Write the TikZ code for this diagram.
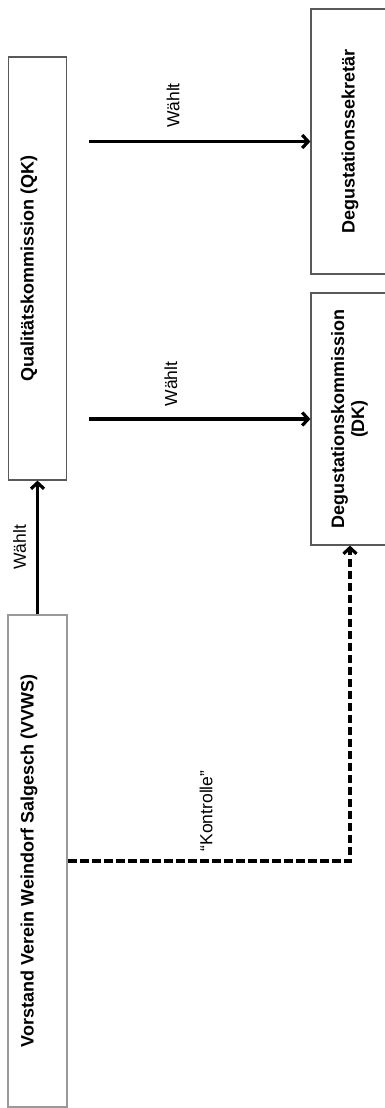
\documentclass[tikz,border=0pt]{standalone}
\usepackage{fontspec}
\setmainfont{Liberation Sans}
\usepackage{graphicx}
\usetikzlibrary{arrows.meta}
\usetikzlibrary{calc}
\tikzstyle{orgbox}=[draw=black!65,line width=1.2pt,inner sep=0,font=\bfseries\fontsize{18}{20}\selectfont]
\tikzstyle{lefttext}=[execute at end node=\hspace*{17pt}]
\newcommand{\hochkant}[1]{\rotatebox{90}{#1}}

\begin{document}
\begin{tikzpicture}[
  x=1pt,y=-1pt,
  wahl/.style={line width=3.2pt,-{Straight Barb[length=6pt,width=13pt]}},
  kontrolle/.style={wahl,dash pattern=on 8.5pt off 3.5pt},
  wlabel/.style={inner sep=0,font=\fontsize{17.5}{20}\selectfont},
]
\useasboundingbox[fill=white] (0,0) rectangle (385,1108);
\clip (0,0) rectangle (385,1108);
  \node[orgbox,lefttext,minimum width=58pt,minimum height=423pt] (qk) at (37.5,268.5)
    {\hochkant{Qualitätskommission (QK)}};
  \node[orgbox,lefttext,draw=black!40,line width=2pt,minimum width=59pt,minimum height=492pt] (vv) at (37.5,861)
    {\hochkant{Vorstand Verein Weindorf Salgesch (VVWS)}};
  \node[orgbox,minimum width=78pt,minimum height=265pt] (ds) at (350,141.5)
    {\hochkant{Degustationssekretär}};
  \node[orgbox,minimum width=78pt,minimum height=252pt] (dk) at (350,419)
    {\hochkant{\begin{tabular}{@{}c@{}}Degustationskommission\\(DK)\end{tabular}}};
  \coordinate (qkr) at ([xshift=22pt]qk.east);

  \draw[wahl] (qkr |- ds.west) -- (ds.west)
    node[wlabel,pos=.38,yshift=36pt] {\hochkant{Wählt}};
  \draw[wahl] (qkr |- dk.west) -- (dk.west)
    node[wlabel,pos=.37,yshift=35pt] {\hochkant{Wählt}};
  \draw[wahl] (vv.north) -- (qk.south)
    node[wlabel,pos=.5,xshift=-18pt] {\hochkant{Wählt}};
  %\draw[kontrolle] (vv.east) -- (dk.south);
  \draw[kontrolle] (vv.east) -| (dk.south)
    node[wlabel,pos=.245,yshift=50pt] {\hochkant{“Kontrolle”}};
\end{tikzpicture}
\end{document}
